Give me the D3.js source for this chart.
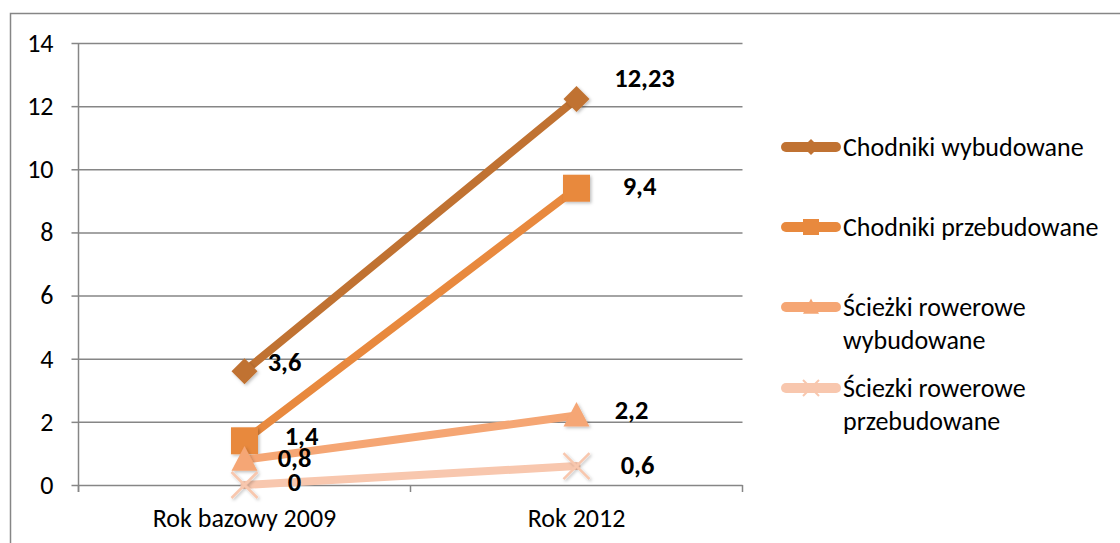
<!DOCTYPE html>
<html><head><meta charset="utf-8">
<script src="https://cdn.jsdelivr.net/npm/d3@7"></script>
<style>
html,body{margin:0;padding:0;background:#fff;}
svg{display:block;}
text{font-family:Carlito, Lato, "Open Sans", sans-serif;fill:#000;}
</style></head>
<body>
<script>
const categories = ["Rok bazowy 2009", "Rok 2012"];
const seriesNames = ["Chodniki wybudowane", "Chodniki przebudowane", "Ścieżki rowerowe wybudowane", "Ściezki rowerowe przebudowane"];
const chodnikiWybudowane = [3.6, 12.23];
const chodnikiPrzebudowane = [1.4, 9.4];
const sciezkiWybudowane = [0.8, 2.2];
const sciezkiPrzebudowane = [0, 0.6];
const yTicks = [0, 2, 4, 6, 8, 10, 12, 14];

const values = [chodnikiWybudowane, chodnikiPrzebudowane, sciezkiWybudowane, sciezkiPrzebudowane];
const colors = ["#C07232", "#E8893E", "#F5A674", "#F8C7AE"];
const markers = ["diamond", "square", "triangle", "x"];
const legendLines = [["Chodniki wybudowane"], ["Chodniki przebudowane"], ["Ścieżki rowerowe", "wybudowane"], ["Ściezki rowerowe", "przebudowane"]];
// label offsets (layout only), per series per point [dx, dy] from point
const labelOffsets = [
  [[40, -9], [68, -21]],
  [[57, -5], [63, -2]],
  [[50, -2], [55, -6]],
  [[50, -3], [61, -1]]
];

const W = 1120, H = 543;
const FS = 26;
const svg = d3.select("body").append("svg").attr("width", W).attr("height", H);
svg.append("rect").attr("x", 10.5).attr("y", 13.5).attr("width", W + 10).attr("height", H + 10)
  .attr("fill", "#fff").attr("stroke", "#868686").attr("stroke-width", 1.5);

const defs = svg.append("defs");
const f = defs.append("filter").attr("id", "sh").attr("x", "-50%").attr("y", "-50%").attr("width", "200%").attr("height", "200%");
f.append("feDropShadow").attr("dx", 1.5).attr("dy", 1.5).attr("stdDeviation", 1.5).attr("flood-color", "#000").attr("flood-opacity", 0.25);

const x0 = 78.5, x1 = 742.5, yTop = 43, yBot = 485;
const x = d3.scaleBand().domain(categories).range([x0, x1]);
const y = d3.scaleLinear().domain([0, 14]).range([yBot, yTop]);
const cx = c => x(c) + x.bandwidth() / 2;

// gridlines
const gridG = svg.append("g").attr("transform", `translate(${x0},0)`)
  .call(d3.axisLeft(y).tickValues(yTicks).tickSize(7).tickPadding(18).tickFormat(d3.format("d")));
gridG.select(".domain").remove();
gridG.selectAll(".tick line").attr("stroke", "#868686").attr("stroke-width", 1.5).attr("x2", -7);
gridG.selectAll(".tick").append("line").attr("x1", 0).attr("x2", x1 - x0).attr("stroke", "#868686").attr("stroke-width", 1.5);
gridG.selectAll(".tick text").attr("font-size", FS).attr("fill", "#000").attr("font-family", "Carlito, Lato, sans-serif");

// y axis line
svg.append("line").attr("x1", x0).attr("x2", x0).attr("y1", yTop).attr("y2", yBot + 7)
  .attr("stroke", "#868686").attr("stroke-width", 1.5);

// x axis
const xAxisG = svg.append("g").attr("transform", `translate(0,${yBot})`)
  .call(d3.axisBottom(x).tickSize(0).tickPadding(24));
xAxisG.select(".domain").remove();
xAxisG.selectAll(".tick text").attr("font-size", FS).attr("fill", "#000").attr("font-family", "Carlito, Lato, sans-serif");
const tickXs = [x0, x0 + x.bandwidth(), x1];
svg.append("g").selectAll("line").data(tickXs).join("line")
  .attr("x1", d => d).attr("x2", d => d).attr("y1", yBot).attr("y2", yBot + 7)
  .attr("stroke", "#868686").attr("stroke-width", 1.5);

function markerPath(type, s) {
  if (type === "diamond") return `M0,${-s}L${s},0L0,${s}L${-s},0Z`;
  if (type === "square") return `M${-s},${-s}H${s}V${s}H${-s}Z`;
  if (type === "triangle") return `M0,${-s*1.05}L${s},${s*0.85}L${-s},${s*0.85}Z`;
  return `M${-s},${-s}L${s},${s}M${s},${-s}L${-s},${s}`;
}
const msz = [13, 13.5, 13, 13];

const line = d3.line().x((d, i) => cx(categories[i])).y(d => y(d));
values.forEach((vals, si) => {
  const g = svg.append("g");
  g.append("path").datum(vals).attr("d", line).attr("fill", "none")
    .attr("stroke", colors[si]).attr("stroke-width", 8).attr("stroke-linecap", "round");
  vals.forEach((v, i) => {
    const m = g.append("path").attr("d", markerPath(markers[si], msz[si]))
      .attr("transform", `translate(${cx(categories[i])},${y(v)})`)
      .attr("filter", "url(#sh)");
    if (markers[si] === "x") m.attr("fill", "none").attr("stroke", colors[si]).attr("stroke-width", 2.5);
    else m.attr("fill", colors[si]);
  });
});
// data labels
values.forEach((vals, si) => {
  vals.forEach((v, i) => {
    const o = labelOffsets[si][i];
    svg.append("text").attr("x", cx(categories[i]) + o[0]).attr("y", y(v) + o[1])
      .attr("text-anchor", "middle").attr("dominant-baseline", "central")
      .attr("font-size", 26.5).attr("font-weight", "bold")
      .text(d3.format(",")(v).replace(".", ","));
  });
});

// legend
const legY = [147, 227, 307, 388];
legendLines.forEach((lines, si) => {
  const g = svg.append("g").attr("transform", `translate(0,${legY[si]})`);
  g.append("line").attr("x1", 786).attr("x2", 836).attr("y1", 0).attr("y2", 0)
    .attr("stroke", colors[si]).attr("stroke-width", 10).attr("stroke-linecap", "round");
  const mk = g.append("path").attr("d", markerPath(markers[si], 8)).attr("transform", "translate(811,0)");
  if (markers[si] === "x") mk.attr("fill", "none").attr("stroke", colors[si]).attr("stroke-width", 2);
  else mk.attr("fill", colors[si]);
  lines.forEach((t, li) => {
    g.append("text").attr("x", 843).attr("y", li * 33).attr("dominant-baseline", "central")
      .attr("font-size", FS).text(t);
  });
});
</script>
</body></html>
